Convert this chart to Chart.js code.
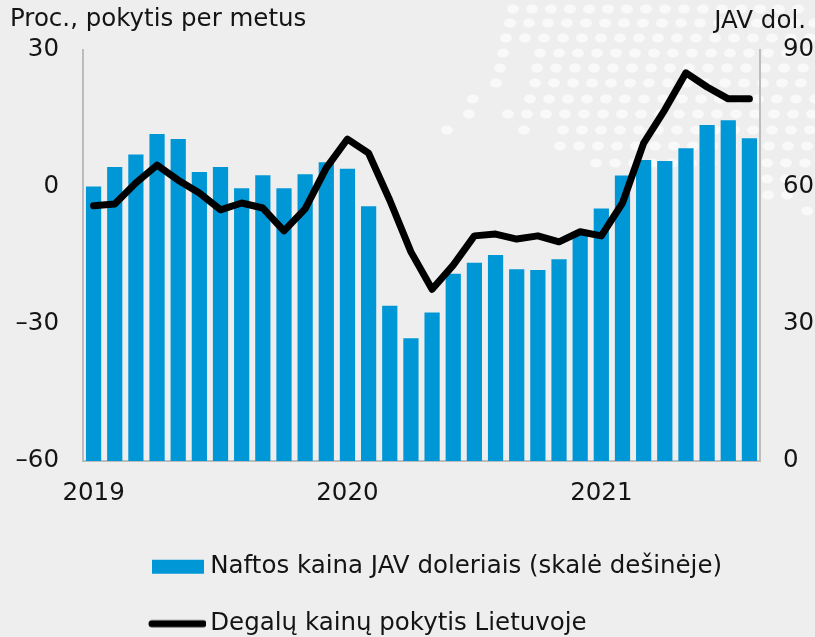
<!DOCTYPE html>
<html><head><meta charset="utf-8">
<style>html,body{margin:0;padding:0;background:#eeeeee}canvas{display:block}</style>
<script src="https://cdn.jsdelivr.net/npm/chart.js@4"></script>
</head><body>
<canvas id="c" width="815" height="637"></canvas>
<script>
const months = ["2019","","","","","","","","","","","","2020","","","","","","","","","","","","2021","","","","","","",""];
const oilPrice = [60.1,64.4,67.1,71.6,70.5,63.3,64.4,59.7,62.6,59.7,62.8,65.4,64.0,55.8,34.0,26.9,32.5,41.0,43.4,45.1,42.0,41.8,44.2,50.1,55.3,62.5,65.9,65.7,68.5,73.6,74.6,70.7];
const fuelChange = [-4.1,-3.7,0.9,4.8,1.5,-1.3,-5.0,-3.5,-4.6,-9.6,-4.8,4.2,10.5,7.4,-2.9,-14.2,-22.4,-17.1,-10.7,-10.3,-11.4,-10.7,-12.0,-9.8,-10.7,-3.5,9.6,16.9,25.0,21.9,19.3,19.3];
const leftTitle = "Proc., pokytis per metus";
const rightTitle = "JAV dol.";
const oilLabel = "Naftos kaina JAV doleriais (skalė dešinėje)";
const fuelLabel = "Degalų kainų pokytis Lietuvoje";

// faint decorative dotted map behind the chart: [row y, first x, last x]
const mapRows = [[9,513,815],[23,510,815],[38,506,815],[53,503,503],[53,540,815],[68,500,500],[68,537,815],[83,496,496],[83,535,815],
 [99,473,473],[99,530,815],[114,469,469],[114,508,815],[130,447,447],[130,524,524],[130,563,815],[146,560,815],[163,596,815],[179,767,815],[195,768,790],[211,807,807]];
const dotSpacing = 19;

const FONT = "'DejaVu Sans'";
const FS = 24.5;
const INK = "#141414";
const AXIS = "#bcbcbc";

function swatch(draw){
  const cv = document.createElement('canvas'); cv.width = 62; cv.height = 16;
  draw(cv.getContext('2d')); return cv;
}
const oilSwatch = swatch(g=>{g.fillStyle='#0097d7';g.fillRect(8,1,52,14);});
const fuelSwatch = swatch(g=>{g.strokeStyle='#000';g.lineWidth=7;g.lineCap='round';g.beginPath();g.moveTo(8,8);g.lineTo(59,8);g.stroke();});

const placeBlocks = {
  id:'placeBlocks',
  beforeDraw(chart){
    const g = chart.ctx;
    g.save(); g.fillStyle='#f9f9f9';
    for(const [y,a,b] of mapRows){
      for(let x=a;x<=b;x+=dotSpacing){
        g.beginPath(); g.ellipse(x,y,6,4.5,0,0,Math.PI*2); g.fill();
      }
    }
    g.restore();
    const t = chart.boxes.find(b=>b.options && b.options.text===leftTitle);
    const s = chart.boxes.find(b=>b.options && b.options.text===rightTitle);
    const l = chart.legend;
    t.left = 10; t.right = 320; t.top = 7;
    s.left = 600; s.right = 806; s.top = 9;
    l.left = 119.5; l.top = 522;
  }
};

new Chart(document.getElementById('c'),{
  data:{labels:months,datasets:[
    {type:'line',label:fuelLabel,data:fuelChange,yAxisID:'yL',order:0,borderColor:'#000',backgroundColor:'#000',borderWidth:7,pointRadius:0,tension:0,borderCapStyle:'round',borderJoinStyle:'round',clip:false},
    {type:'bar',label:oilLabel,data:oilPrice,yAxisID:'yR',order:1,backgroundColor:'#0097d7',barPercentage:0.72,categoryPercentage:1}
  ]},
  options:{
    responsive:false,animation:false,
    layout:{padding:0},
    scales:{
      x:{grid:{display:false,drawTicks:false},border:{display:true,color:AXIS,width:2},
        ticks:{autoSkip:false,maxRotation:0,minRotation:0,padding:18,color:INK,font:{family:FONT,size:FS}},
        afterFit(s){s.height=52;}},
      yL:{position:'left',min:-60,max:30,grid:{display:false,drawTicks:false},border:{display:true,color:AXIS,width:2},
        ticks:{stepSize:30,padding:24,color:INK,font:{family:FONT,size:FS},callback:v=>String(v).replace('-','–')},
        afterFit(s){s.width=83;}},
      yR:{position:'right',min:0,max:90,grid:{display:false,drawTicks:false},border:{display:true,color:AXIS,width:2},
        ticks:{stepSize:30,padding:23,color:INK,font:{family:FONT,size:FS}},
        afterFit(s){s.width=55;}}
    },
    plugins:{
      tooltip:{enabled:false},
      title:{display:true,text:leftTitle,align:'start',color:INK,padding:{top:0,bottom:1},font:{family:FONT,size:FS,weight:'normal',lineHeight:1}},
      subtitle:{display:true,text:rightTitle,align:'end',color:INK,padding:0,font:{family:FONT,size:FS,weight:'normal',lineHeight:1}},
      legend:{display:true,position:'bottom',align:'start',
        labels:{usePointStyle:true,pointStyleWidth:46,boxHeight:14,padding:32.5,color:INK,font:{family:FONT,size:FS},
          generateLabels(){return [
            {text:oilLabel,pointStyle:oilSwatch,fontColor:INK,hidden:false,lineWidth:0,datasetIndex:1},
            {text:fuelLabel,pointStyle:fuelSwatch,fontColor:INK,hidden:false,lineWidth:0,datasetIndex:0}
          ];}}}
    }
  },
  plugins:[placeBlocks]
});
</script>
</body></html>
